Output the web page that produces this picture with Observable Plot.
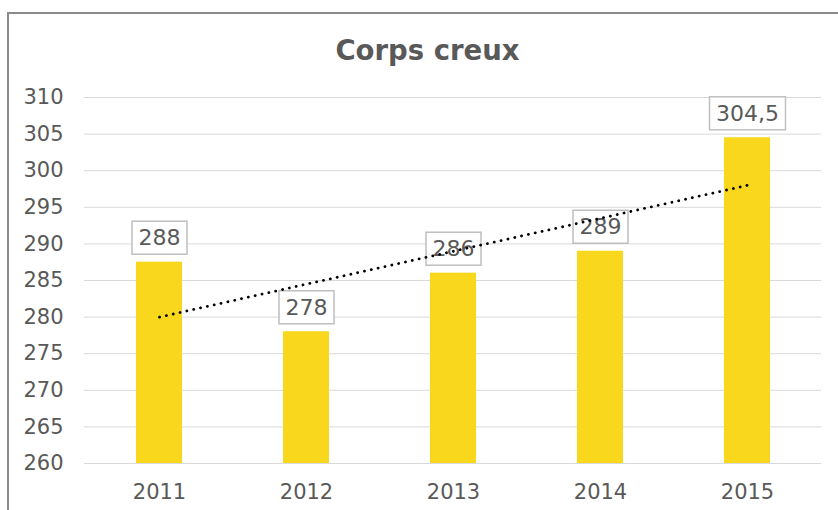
<!DOCTYPE html>
<html>
<head>
<meta charset="utf-8">
<script src="https://cdn.jsdelivr.net/npm/d3@7"></script>
<script src="https://cdn.jsdelivr.net/npm/@observablehq/plot@0.6"></script>
<style>
  html, body { margin: 0; padding: 0; width: 838px; height: 510px; overflow: hidden; background: #fff; }
  #frame { position: absolute; left: 7px; top: 12px; width: 900px; height: 600px; border: 2px solid #8a8a8a; box-sizing: border-box; }
  #title { position: absolute; left: 8px; width: 839px; top: 36px; text-align: center;
           font: bold 27.5px "DejaVu Sans", Verdana, sans-serif; line-height: 28px; color: #595959; }
  #chart { position: absolute; left: 0; top: 0; }
</style>
</head>
<body>
<div id="frame"></div>
<div id="chart"></div>
<div id="title">Corps creux</div>
<script>
const years = ["2011", "2012", "2013", "2014", "2015"];
const values = [287.5, 278, 286, 289, 304.5];
const labels = ["288", "278", "286", "289", "304,5"];
const yTicks = [260, 265, 270, 275, 280, 285, 290, 295, 300, 305, 310];

const data = years.map((year, i) => ({year, value: values[i], label: labels[i]}));

// linear trend line (least squares over the series)
const n = values.length;
const mx = (n - 1) / 2;
const my = d3.mean(values);
const slope = d3.sum(values, (v, i) => (i - mx) * (v - my)) / d3.sum(values, (v, i) => (i - mx) ** 2);
const trend = years.map((year, i) => ({year, value: my + slope * (i - mx)}));

const chart = Plot.plot({
  width: 838,
  height: 510,
  marginTop: 97,
  marginBottom: 47,
  marginLeft: 84,
  marginRight: 17,
  style: {fontFamily: "DejaVu Sans, Verdana, sans-serif", fontSize: "21px", color: "#595959", background: "transparent", overflow: "visible"},
  x: {domain: years, paddingInner: 0.69, paddingOuter: 0.345, label: null, tickSize: 0, tickPadding: 21},
  y: {domain: [260, 310], ticks: yTicks, label: null, tickSize: 0, tickPadding: 21},
  marks: [
    Plot.gridY(yTicks, {stroke: "#d9d9d9", strokeOpacity: 1, strokeWidth: 1}),
    Plot.barY(data, {x: "year", y1: 260, y2: "value", fill: "#F9D71C"}),
    Plot.text(data, {x: "year", y: "value", text: "label", dy: -24, fontSize: 22, fill: "#595959", className: "lbl"}),
    Plot.line(trend, {x: "year", y: "value", stroke: "#000", strokeWidth: 2.8, strokeDasharray: "0.1,6.9", strokeLinecap: "round"})
  ]
});
document.getElementById("chart").appendChild(chart);

// boxes behind the data labels
chart.querySelectorAll("g.lbl text").forEach(t => {
  const b = t.getBBox();
  const r = document.createElementNS("http://www.w3.org/2000/svg", "rect");
  const w = b.width + 13, h = 33;
  r.setAttribute("x", b.x + b.width / 2 - w / 2);
  r.setAttribute("y", b.y + b.height / 2 - h / 2);
  r.setAttribute("width", w);
  r.setAttribute("height", h);
  r.setAttribute("fill", "#fff");
  r.setAttribute("stroke", "#bfbfbf");
  r.setAttribute("stroke-width", 1.5);
  if (t.getAttribute("transform")) r.setAttribute("transform", t.getAttribute("transform"));
  t.parentNode.insertBefore(r, t);
});
</script>
</body>
</html>
